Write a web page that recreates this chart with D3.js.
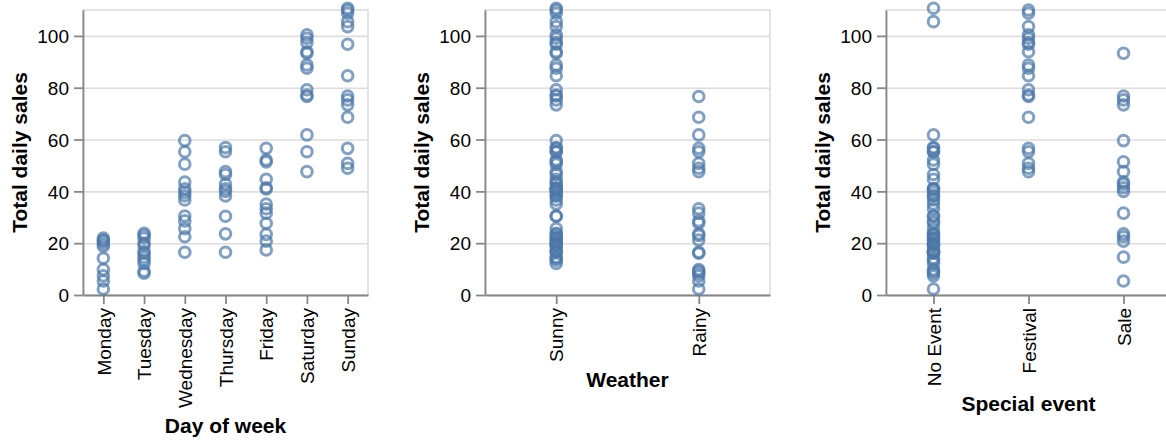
<!DOCTYPE html>
<html>
<head>
<meta charset="utf-8">
<script src="https://cdn.jsdelivr.net/npm/d3@7"></script>
<style>
  body { margin: 0; background: #fff; }
  svg { display: block; }
</style>
</head>
<body>
<svg id="chart" width="1166" height="440"></svg>
<script>
// Categories for each facet
const dayCategories = ["Monday", "Tuesday", "Wednesday", "Thursday", "Friday", "Saturday", "Sunday"];
const weatherCategories = ["Sunny", "Rainy"];
const eventCategories = ["No Event", "Festival", "Sale"];
const salesTicks = [0, 20, 40, 60, 80, 100];

// Daily records per weekday: [total daily sales, weather, special event]
const mondayRecords = [
  [22.0, "Sunny", "No Event"], [21.2, "Rainy", "No Event"], [20.8, "Sunny", "Sale"],
  [19.8, "Sunny", "No Event"], [18.8, "Sunny", "No Event"], [14.2, "Sunny", "No Event"],
  [9.8, "Rainy", "No Event"], [7.4, "Rainy", "No Event"], [5.4, "Rainy", "Sale"],
  [2.3, "Rainy", "No Event"]
];
const tuesdayRecords = [
  [23.8, "Sunny", "No Event"], [23.0, "Rainy", "No Event"], [22.0, "Sunny", "No Event"],
  [20.0, "Sunny", "No Event"], [19.2, "Sunny", "No Event"], [16.8, "Sunny", "No Event"],
  [16.1, "Rainy", "No Event"], [14.6, "Sunny", "Sale"], [13.4, "Sunny", "No Event"],
  [12.2, "Sunny", "No Event"], [9.2, "Rainy", "No Event"], [8.4, "Rainy", "No Event"]
];
const wednesdayRecords = [
  [59.6, "Sunny", "Sale"], [55.3, "Sunny", "No Event"], [50.5, "Sunny", "No Event"],
  [43.6, "Sunny", "Sale"], [41.0, "Sunny", "No Event"], [39.6, "Sunny", "No Event"],
  [38.3, "Sunny", "No Event"], [36.7, "Sunny", "No Event"], [30.5, "Sunny", "No Event"],
  [28.6, "Rainy", "No Event"], [25.6, "Sunny", "No Event"], [22.5, "Sunny", "Sale"],
  [16.5, "Rainy", "No Event"]
];
const thursdayRecords = [
  [56.9, "Sunny", "No Event"], [55.3, "Sunny", "No Event"], [47.6, "Sunny", "Sale"],
  [46.5, "Sunny", "No Event"], [42.8, "Sunny", "Sale"], [41.0, "Sunny", "No Event"],
  [40.0, "Sunny", "Sale"], [38.2, "Sunny", "No Event"], [30.4, "Sunny", "No Event"],
  [23.6, "Rainy", "Sale"], [16.5, "Sunny", "No Event"]
];
const fridayRecords = [
  [56.6, "Sunny", "No Event"], [52.1, "Sunny", "No Event"], [51.4, "Sunny", "Sale"],
  [44.7, "Sunny", "No Event"], [41.4, "Sunny", "Sale"], [40.9, "Sunny", "No Event"],
  [35.1, "Sunny", "No Event"], [33.3, "Rainy", "No Event"], [31.6, "Rainy", "Sale"],
  [27.7, "Rainy", "No Event"], [23.4, "Sunny", "No Event"], [20.8, "Sunny", "No Event"],
  [17.4, "Sunny", "No Event"]
];
const saturdayRecords = [
  [100.4, "Sunny", "Festival"], [99.1, "Sunny", "Festival"], [97.4, "Sunny", "Festival"],
  [93.9, "Sunny", "Festival"], [93.3, "Sunny", "Sale"], [88.8, "Sunny", "Festival"],
  [87.5, "Sunny", "Festival"], [79.2, "Sunny", "Festival"], [77.2, "Sunny", "Festival"],
  [76.6, "Rainy", "Festival"], [61.8, "Rainy", "No Event"], [55.3, "Rainy", "Festival"],
  [47.6, "Rainy", "Festival"]
];
const sundayRecords = [
  [110.7, "Sunny", "No Event"], [110.0, "Sunny", "Festival"], [108.8, "Sunny", "Festival"],
  [105.5, "Sunny", "No Event"], [103.6, "Sunny", "Festival"], [96.8, "Sunny", "Festival"],
  [84.6, "Sunny", "Festival"], [76.8, "Sunny", "Sale"], [75.3, "Sunny", "Sale"],
  [73.4, "Sunny", "Sale"], [68.6, "Rainy", "Festival"], [56.6, "Rainy", "Festival"],
  [50.8, "Rainy", "Festival"], [48.9, "Rainy", "Festival"]
];

const recordsByDay = [mondayRecords, tuesdayRecords, wednesdayRecords, thursdayRecords,
                      fridayRecords, saturdayRecords, sundayRecords];

// Flatten into one table of rows
const rows = [];
recordsByDay.forEach((list, i) => {
  list.forEach(([sales, weather, event]) => {
    rows.push({ day: dayCategories[i], weather, event, sales });
  });
});

// Layout
const plotW = 285, plotH = 285, plotTop = 10;
const FONT = "'Liberation Sans', Arial, Helvetica, sans-serif";
const markColor = "#4c78a8";
const labelSize = 19, titleSize = 21;
const tickLen = 9, tickPad = 5;

const facets = [
  { field: "day", domain: dayCategories, title: "Day of week", left: 83 },
  { field: "weather", domain: weatherCategories, title: "Weather", left: 485 },
  { field: "event", domain: eventCategories, title: "Special event", left: 886 }
];

const svg = d3.select("#chart");
const y = d3.scaleLinear().domain([0, 110]).range([plotH, 0]);

facets.forEach(f => {
  const g = svg.append("g").attr("transform", `translate(${f.left},${plotTop})`);
  const x = d3.scalePoint().domain(f.domain).range([0, plotW]).padding(0.5);

  // horizontal grid
  const grid = g.append("g")
    .call(d3.axisLeft(y).tickValues(salesTicks).tickSize(-plotW).tickFormat(""));
  grid.select(".domain").remove();
  grid.selectAll("line").attr("stroke", "#ddd").attr("stroke-width", 1.6);

  // view border
  g.append("rect")
    .attr("x", 0).attr("y", 0).attr("width", plotW).attr("height", plotH)
    .attr("fill", "none").attr("stroke", "#ddd").attr("stroke-width", 1.6);

  // y axis
  const ya = g.append("g")
    .call(d3.axisLeft(y).tickValues(salesTicks).tickSize(tickLen).tickSizeOuter(0).tickPadding(tickPad));
  ya.attr("color", "#888").attr("font-family", FONT).attr("font-size", labelSize);
  ya.select(".domain").attr("stroke-width", 1.8);
  ya.selectAll(".tick line").attr("stroke-width", 1.8);
  ya.selectAll("text").attr("fill", "#000").attr("dy", "0.35em");

  // x axis
  const xa = g.append("g")
    .attr("transform", `translate(0,${plotH})`)
    .call(d3.axisBottom(x).tickSize(tickLen).tickSizeOuter(0));
  xa.attr("color", "#888").attr("font-family", FONT).attr("font-size", labelSize);
  xa.select(".domain").attr("stroke-width", 1.8);
  xa.selectAll(".tick line").attr("stroke-width", 1.8);
  xa.selectAll("text")
    .attr("fill", "#000")
    .attr("x", -(tickLen + 4)).attr("y", 0).attr("dy", "0.35em")
    .attr("transform", "rotate(-90)")
    .attr("text-anchor", "end");

  let maxLen = 0;
  xa.selectAll("text").each(function () {
    maxLen = Math.max(maxLen, this.getComputedTextLength());
  });

  // points
  g.append("g").selectAll("circle")
    .data(rows)
    .join("circle")
    .attr("cx", d => x(d[f.field]))
    .attr("cy", d => y(d.sales))
    .attr("r", 5.3)
    .attr("fill", "none")
    .attr("stroke", markColor)
    .attr("stroke-width", 3)
    .attr("stroke-opacity", 0.7);

  // x title
  g.append("text")
    .attr("x", plotW / 2)
    .attr("y", plotH + tickLen + 4 + maxLen + 25)
    .attr("text-anchor", "middle")
    .attr("font-family", FONT).attr("font-size", titleSize).attr("font-weight", "bold")
    .attr("fill", "#000")
    .text(f.title);

  // y title
  g.append("text")
    .attr("transform", `translate(-56,${plotH / 2}) rotate(-90)`)
    .attr("text-anchor", "middle")
    .attr("font-family", FONT).attr("font-size", titleSize).attr("font-weight", "bold")
    .attr("fill", "#000")
    .text("Total daily sales");
});
</script>
</body>
</html>
